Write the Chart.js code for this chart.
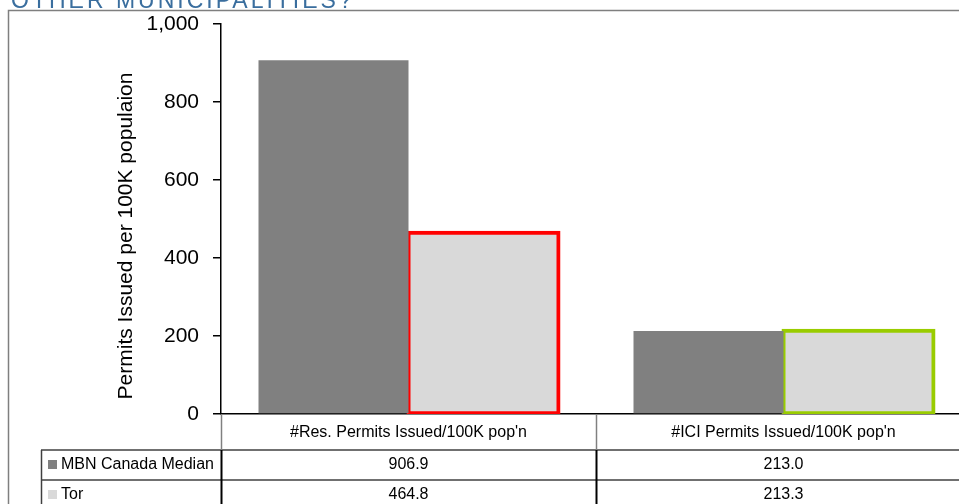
<!DOCTYPE html>
<html>
<head>
<meta charset="utf-8">
<script src="https://cdn.jsdelivr.net/npm/chart.js@4/dist/chart.umd.min.js"></script>
<style>
    html, body { margin: 0; padding: 0; background: #fff; overflow: hidden; }
    #chartPermisos { display: block; }
</style>
</head>
<body>
<canvas id="chartPermisos" width="971" height="504"></canvas>
<script>
// Datos del gráfico
const categorias = ["#Res. Permits Issued/100K pop'n", "#ICI Permits Issued/100K pop'n"];
const series = ['MBN Canada Median', 'Tor'];
const valoresMediana = [906.9, 213.0];
const valoresTor = [464.8, 213.3];
const marcasY = [0, 200, 400, 600, 800, 1000];

const colorMediana = '#808080';
const colorTor = '#D9D9D9';
const FUENTE = 'Arial, "Liberation Sans", sans-serif';

/* =====================
   TÍTULO, MARCO Y TABLA DE DATOS
===================== */
const tablaDatos = {
    id: 'tablaDatos',
    afterDraw(chart) {
        const ctx = chart.ctx;
        const area = chart.chartArea;
        const x = chart.scales.x;
        const anchoCat = (area.right - area.left) / categorias.length;

        ctx.save();

        // Título de la página (cortado arriba)
        ctx.fillStyle = '#3A6E9E';
        ctx.font = '23px ' + FUENTE;
        ctx.textAlign = 'left';
        ctx.textBaseline = 'alphabetic';
        ctx.letterSpacing = '3px';
        ctx.fillText('OTHER MUNICIPALITIES?', 11, 7.5);
        ctx.letterSpacing = '0px';

        // Marco
        ctx.strokeStyle = '#7F7F7F';
        ctx.lineWidth = 1.5;
        ctx.beginPath();
        ctx.moveTo(8.5, 504);
        ctx.lineTo(8.5, 10.5);
        ctx.lineTo(971, 10.5);
        ctx.stroke();

        // Título del eje Y
        ctx.save();
        ctx.translate(126, 236);
        ctx.rotate(-Math.PI / 2);
        ctx.fillStyle = '#000';
        ctx.font = '21px ' + FUENTE;
        ctx.textAlign = 'center';
        ctx.textBaseline = 'middle';
        ctx.fillText('Permits Issued per 100K populaion', 0, 0);
        ctx.restore();

        const yCab = area.bottom;
        const yFila1 = 450;
        const yFila2 = 480;
        const altoFila = yFila2 - yFila1;
        const izqTabla = 41;

        // Encabezados de categoría
        ctx.fillStyle = '#000';
        ctx.font = '16px ' + FUENTE;
        ctx.textAlign = 'center';
        ctx.textBaseline = 'middle';
        categorias.forEach((c, i) => {
            ctx.fillText(c, x.getPixelForValue(i), (yCab + yFila1) / 2 + 1);
        });

        // Líneas horizontales
        ctx.strokeStyle = '#404040';
        ctx.lineWidth = 1.5;
        [yFila1, yFila2].forEach(y => {
            ctx.beginPath();
            ctx.moveTo(izqTabla, y);
            ctx.lineTo(area.right, y);
            ctx.stroke();
        });
        ctx.beginPath();
        ctx.moveTo(izqTabla + 0.5, yFila1);
        ctx.lineTo(izqTabla + 0.5, 504);
        ctx.stroke();

        // Divisiones verticales entre categorías
        for (let i = 0; i <= categorias.length; i++) {
            const xl = Math.round(area.left + i * anchoCat) + 0.5;
            ctx.strokeStyle = '#808080';
            ctx.lineWidth = 1.5;
            ctx.beginPath();
            ctx.moveTo(xl, yCab);
            ctx.lineTo(xl, yFila1);
            ctx.stroke();
            ctx.strokeStyle = '#000';
            ctx.lineWidth = 2;
            ctx.beginPath();
            ctx.moveTo(xl, yFila1);
            ctx.lineTo(xl, 504);
            ctx.stroke();
        }

        // Filas: clave de color, nombre y valores
        const filas = [
            { nombre: series[0], color: colorMediana, valores: valoresMediana },
            { nombre: series[1], color: colorTor, valores: valoresTor }
        ];
        filas.forEach((f, r) => {
            const yc = yFila1 + r * altoFila + altoFila / 2;
            ctx.fillStyle = f.color;
            ctx.fillRect(48, yc - 5, 9, 9);
            ctx.fillStyle = '#000';
            ctx.font = '16px ' + FUENTE;
            ctx.textAlign = 'left';
            ctx.fillText(f.nombre, 61, yc);
            ctx.textAlign = 'center';
            f.valores.forEach((v, i) => {
                ctx.fillText(v.toFixed(1), x.getPixelForValue(i), yc);
            });
        });

        ctx.restore();
    }
};

/* =====================
   BARRAS
===================== */
new Chart(
    document.getElementById('chartPermisos'),
    {
        type: 'bar',
        data: {
            labels: categorias,
            datasets: [
                {
                    label: series[0],
                    data: valoresMediana,
                    backgroundColor: colorMediana,
                    borderWidth: 0
                },
                {
                    label: series[1],
                    data: valoresTor,
                    backgroundColor: colorTor,
                    borderColor: ['#FF0000', '#99CC00'],
                    borderWidth: 4,
                    borderSkipped: false,
                    // borde centrado sobre el contorno de la barra
                    inflateAmount: 2
                }
            ]
        },
        options: {
            responsive: false,
            animation: false,
            devicePixelRatio: 1,
            categoryPercentage: 0.8,
            barPercentage: 1.0,
            layout: {
                padding: { top: 24, bottom: 90, left: 0, right: 0 }
            },
            plugins: {
                legend: { display: false },
                tooltip: { enabled: false }
            },
            scales: {
                x: {
                    offset: true,
                    grid: { display: false, drawTicks: false },
                    ticks: { display: false },
                    border: { display: true, color: '#000', width: 1.5 },
                    afterFit: (s) => { s.height = 0; }
                },
                y: {
                    min: 0,
                    max: 1000,
                    afterBuildTicks: (s) => { s.ticks = marcasY.map(v => ({ value: v })); },
                    afterFit: (s) => {
                        s.width = 221;
                        s.paddingTop = 0;
                        s.paddingBottom = 0;
                    },
                    ticks: {
                        color: '#000',
                        font: { family: FUENTE, size: 21 },
                        padding: 14
                    },
                    grid: {
                        drawOnChartArea: false,
                        drawTicks: true,
                        tickLength: 8,
                        color: '#000',
                        lineWidth: 1.5
                    },
                    border: { display: true, color: '#000', width: 1.5 }
                }
            }
        },
        plugins: [tablaDatos]
    }
);
</script>
</body>
</html>
